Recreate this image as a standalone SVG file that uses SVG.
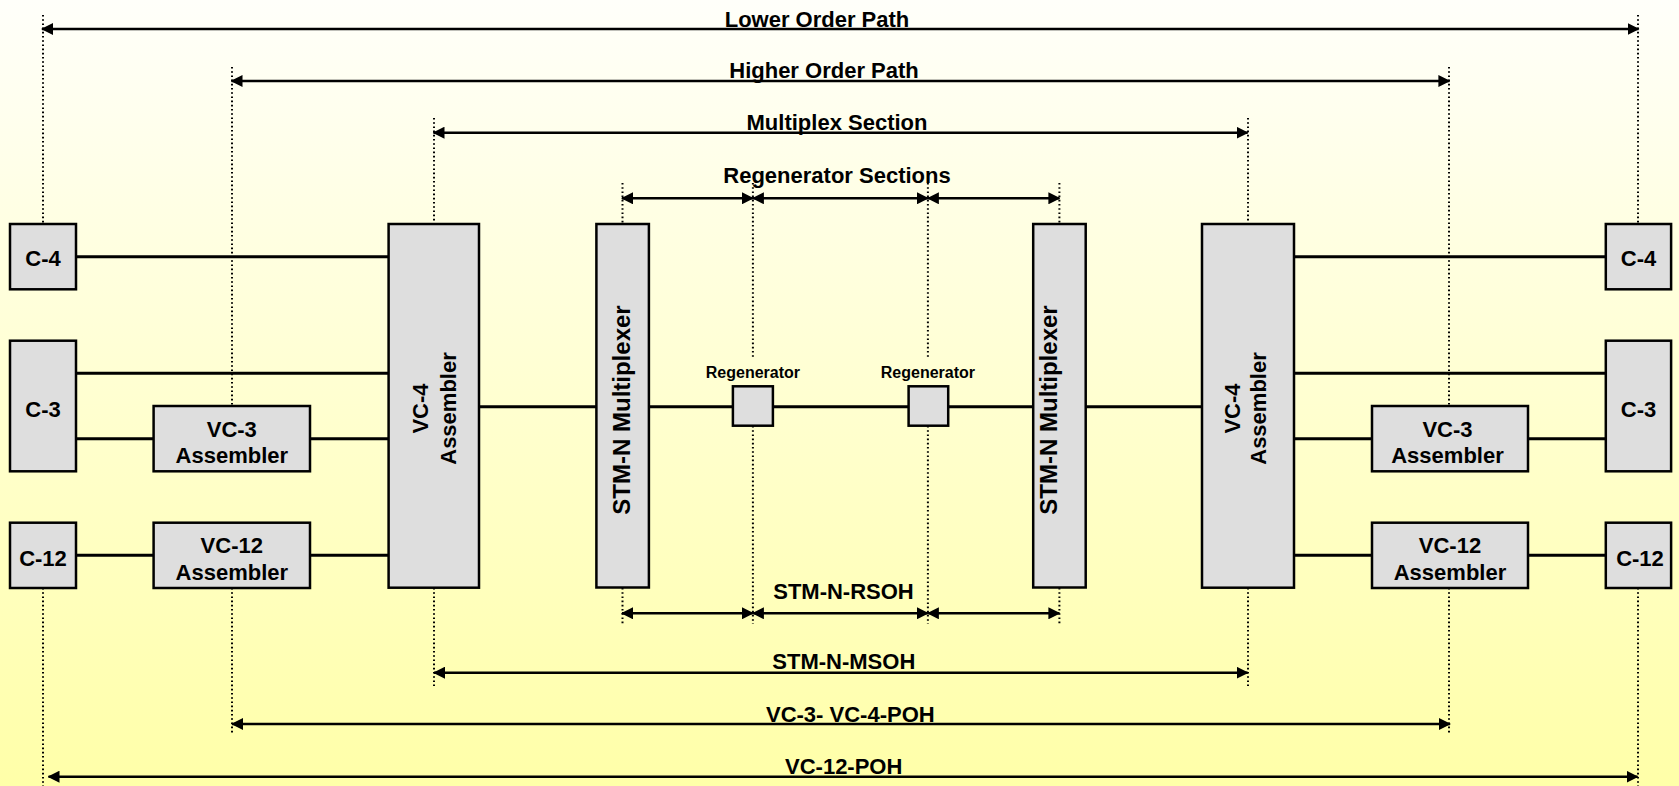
<svg xmlns="http://www.w3.org/2000/svg" width="1679" height="786" viewBox="0 0 1679 786">
<defs>
<linearGradient id="bg" x1="0" y1="0" x2="0" y2="1">
<stop offset="0" stop-color="#FFFFFA"/>
<stop offset="1" stop-color="#FFFFA8"/>
</linearGradient>
<marker id="ah" viewBox="0 0 12 12" markerWidth="12" markerHeight="12" refX="11" refY="6" markerUnits="userSpaceOnUse" orient="auto-start-reverse">
<path d="M0,0 L12,6 L0,12 z" fill="#000"/>
</marker>
<style>
.box{fill:#DEDEDE;stroke:#000;stroke-width:2.5}
.t{font-family:"Liberation Sans",Arial,sans-serif;font-weight:bold;font-size:22px;fill:#000;text-anchor:middle}
.ts{font-size:16px}
.tl{font-size:24px}
.con{stroke:#000;stroke-width:3;fill:none}
.arr{stroke:#000;stroke-width:2.5;fill:none;marker-start:url(#ah);marker-end:url(#ah)}
.dot{stroke:#000;stroke-width:2;stroke-dasharray:1.6 2.6;fill:none}
</style>
</defs>
<rect x="0" y="0" width="1679" height="786" fill="url(#bg)"/>

<g id="guides">
<path class="dot" d="M43,15V224 M43,588V786 M232,67V406 M232,588V733 M434,118V224 M434,588V686 M622.5,183V224 M622.5,588V624 M752.9,183V358 M752.9,426V624 M927.9,183V358 M927.9,426V624 M1059.4,183V224 M1059.4,588V624 M1248,118V224 M1248,588V686 M1449,67V406 M1449,588V733 M1638,15V224 M1638,588V786"/>
</g>

<g id="connectors">
<path class="con" d="M76,256.7H388.6 M76,373.3H388.6 M76,438.7H153.6 M310,438.7H388.6 M76,555.3H153.6 M310,555.3H388.6"/>
<path class="con" d="M479,406.7H596.4 M648.9,406.7H732.9 M772.9,406.7H908.6 M948.2,406.7H1033.2 M1085.7,406.7H1202"/>
<path class="con" d="M1294,256.7H1605.8 M1294,373.3H1605.8 M1294,438.7H1372 M1528,438.7H1605.8 M1294,555.3H1372 M1528,555.3H1605.8"/>
<line class="arr" x1="42" y1="29" x2="1638.5" y2="29"/>
<line class="arr" x1="231.5" y1="81" x2="1449.4" y2="81"/>
<line class="arr" x1="433.5" y1="132.7" x2="1247.6" y2="132.7"/>
<line class="arr" x1="622" y1="198.3" x2="752.9" y2="198.3"/>
<line class="arr" x1="752.9" y1="198.3" x2="927.9" y2="198.3"/>
<line class="arr" x1="927.9" y1="198.3" x2="1059.4" y2="198.3"/>
<line class="arr" x1="622" y1="613.3" x2="752.9" y2="613.3"/>
<line class="arr" x1="752.9" y1="613.3" x2="927.9" y2="613.3"/>
<line class="arr" x1="927.9" y1="613.3" x2="1059.4" y2="613.3"/>
<line class="arr" x1="434" y1="672.7" x2="1247.7" y2="672.7"/>
<line class="arr" x1="232" y1="724" x2="1450" y2="724"/>
<line class="arr" x1="48.5" y1="776.7" x2="1637.5" y2="776.7"/>
</g>

<g id="labels">
<text class="t" x="817" y="26.5">Lower Order Path</text>
<text class="t" x="824" y="78">Higher Order Path</text>
<text class="t" x="837" y="130">Multiplex Section</text>
<text class="t" x="837" y="182.5">Regenerator Sections</text>
<text class="t" x="843.5" y="599">STM-N-RSOH</text>
<text class="t" x="843.8" y="669.3">STM-N-MSOH</text>
<text class="t" x="850.3" y="721.7">VC-3- VC-4-POH</text>
<text class="t" x="843.7" y="774">VC-12-POH</text>
</g>

<g id="c4-left"><rect class="box" x="10" y="224" width="66" height="65.3"/><text class="t" x="43" y="266">C-4</text></g>
<g id="c3-left"><rect class="box" x="10" y="340.7" width="66" height="130.6"/><text class="t" x="43" y="416.5">C-3</text></g>
<g id="c12-left"><rect class="box" x="10" y="522.7" width="66" height="65.3"/><text class="t" x="43" y="566">C-12</text></g>
<g id="vc3-left"><rect class="box" x="153.6" y="406" width="156.4" height="65.3"/><text class="t" x="231.8" y="436.5">VC-3</text><text class="t" x="231.8" y="463">Assembler</text></g>
<g id="vc12-left"><rect class="box" x="153.6" y="522.7" width="156.4" height="65.3"/><text class="t" x="231.8" y="553.3">VC-12</text><text class="t" x="231.8" y="580">Assembler</text></g>
<g id="vc4-left"><rect class="box" x="388.6" y="224" width="90.4" height="363.7"/><text class="t" transform="translate(433.8,408.5) rotate(-90)"><tspan x="0" y="-5.4">VC-4</tspan><tspan x="0" y="22.2">Assembler</tspan></text></g>
<g id="stm-left"><rect class="box" x="596.4" y="224" width="52.5" height="363.5"/><text class="t tl" transform="translate(622.6,410) rotate(-90)" x="0" y="7.6">STM-N Multiplexer</text></g>
<g id="regen-1"><rect class="box" x="732.9" y="386.3" width="40" height="39.4"/><text class="t ts" x="752.9" y="377.7">Regenerator</text></g>
<g id="regen-2"><rect class="box" x="908.6" y="386.3" width="39.6" height="39.4"/><text class="t ts" x="927.9" y="377.7">Regenerator</text></g>
<g id="stm-right"><rect class="box" x="1033.2" y="224" width="52.5" height="363.5"/><text class="t tl" transform="translate(1059.5,410) rotate(-90)" x="0" y="-2.5">STM-N Multiplexer</text></g>
<g id="vc4-right"><rect class="box" x="1202" y="224" width="92" height="363.7"/><text class="t" transform="translate(1248,408.5) rotate(-90)"><tspan x="0" y="-7.6">VC-4</tspan><tspan x="0" y="17.6">Assembler</tspan></text></g>
<g id="vc3-right"><rect class="box" x="1372" y="406" width="156" height="65.3"/><text class="t" x="1447.5" y="436.5">VC-3</text><text class="t" x="1447.5" y="463">Assembler</text></g>
<g id="vc12-right"><rect class="box" x="1372" y="522.7" width="156" height="65.3"/><text class="t" x="1450" y="553.3">VC-12</text><text class="t" x="1450" y="580">Assembler</text></g>
<g id="c4-right"><rect class="box" x="1605.8" y="224" width="65.3" height="65.3"/><text class="t" x="1638.5" y="266">C-4</text></g>
<g id="c3-right"><rect class="box" x="1605.8" y="340.7" width="65.3" height="130.6"/><text class="t" x="1638.5" y="416.5">C-3</text></g>
<g id="c12-right"><rect class="box" x="1605.8" y="522.7" width="65.3" height="65.3"/><text class="t" x="1640" y="566">C-12</text></g>
</svg>
